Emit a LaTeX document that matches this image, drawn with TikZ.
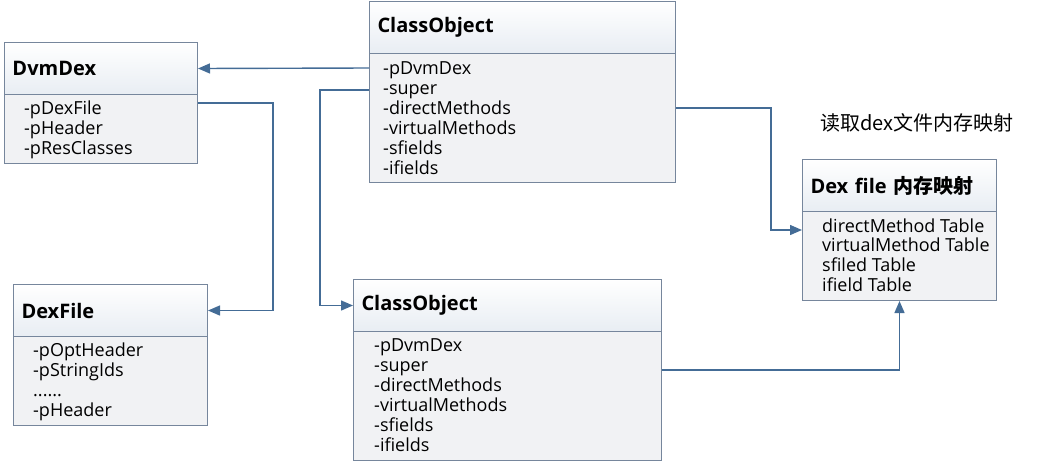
\documentclass[tikz,border=0pt]{standalone}
\usepackage{fontspec}
\setmainfont{Open Sans}
\newfontfamily\cjk{Noto Sans CJK SC}
\usetikzlibrary{arrows.meta}
\begin{document}
\begin{tikzpicture}[x=1pt,y=-1pt]
\definecolor{linecolor}{RGB}{68,108,150}
\definecolor{bordercolor}{RGB}{118,134,156}
\definecolor{headbottom}{RGB}{232,237,243}
\definecolor{bodyfill}{RGB}{241,242,244}
\tikzstyle{head}=[draw=bordercolor,line width=1pt,rectangle,anchor=north west,minimum height=52pt,inner xsep=8pt,align=left,top color=white,bottom color=headbottom,font=\fontsize{20}{24}\selectfont\bfseries]
\tikzstyle{body}=[draw=bordercolor,line width=1pt,rectangle,anchor=north west,fill=bodyfill,inner sep=0pt]
\tikzstyle{attr}=[anchor=west,inner sep=0pt,yshift=-2pt,text height=13pt,text depth=4pt,font=\fontsize{18}{21}\selectfont]
\tikzstyle{link}=[draw=linecolor,line width=1.4pt,-{Triangle[length=12pt,width=10pt]}]
\useasboundingbox (0,0) rectangle (1051,464);
% DvmDex
\node[head,text width=177pt] (dvmdex) at (4,42) {DvmDex};
\node[body,minimum width=193pt,minimum height=69pt] (dvmdexbody) at (4,94) {};
\node[attr] (dvma) at (24,108) {-pDexFile};
\node[attr] (dvmb) at (24,128) {-pHeader};
\node[attr] (dvmc) at (24,148) {-pResClasses};
% ClassObject (top)
\node[head,text width=290pt] (co1) at (369,1) {ClassObject};
\node[body,minimum width=306pt,minimum height=129pt] (co1body) at (369,53) {};
\node[attr] (co1a) at (383,68) {-pDvmDex};
\node[attr] (co1b) at (383,88) {-super};
\node[attr] (co1c) at (383,108) {-directMethods};
\node[attr] (co1d) at (383,128) {-virtualMethods};
\node[attr] (co1e) at (383,148) {-sfields};
\node[attr] (co1f) at (383,168) {-ifields};
% DexFile
\node[head,text width=178pt] (dexfile) at (13,284) {DexFile};
\node[body,minimum width=194pt,minimum height=89pt] (dexfilebody) at (13,336) {};
\node[attr] (dfa) at (33,350) {-pOptHeader};
\node[attr] (dfb) at (33,370) {-pStringIds};
\node[attr] (dfc) at (33,390) {......};
\node[attr] (dfd) at (33,410) {-pHeader};
% ClassObject (bottom)
\node[head,text width=292pt] (co2) at (353,279) {ClassObject};
\node[body,minimum width=308pt,minimum height=129pt] (co2body) at (353,331) {};
\node[attr] (co2a) at (374,345) {-pDvmDex};
\node[attr] (co2b) at (374,365) {-super};
\node[attr] (co2c) at (374,385) {-directMethods};
\node[attr] (co2d) at (374,405) {-virtualMethods};
\node[attr] (co2e) at (374,425) {-sfields};
\node[attr] (co2f) at (374,445) {-ifields};
% Dex file mapping
\node[head,text width=178pt] (dexmap) at (802,159) {Dex file {\cjk 内存映射}};
\node[body,minimum width=194pt,minimum height=89pt] (dexmapbody) at (802,211) {};
\node[attr] (mapa) at (822,226) {directMethod Table};
\node[attr] (mapb) at (822,245) {virtualMethod Table};
\node[attr] (mapc) at (822,265) {sfiled Table};
\node[attr] (mapd) at (822,285) {ifield Table};
\node[attr,font=\fontsize{20}{24}\selectfont] (maplabel) at (820,124) {\cjk 读取dex文件内存映射};
% links
\draw[link] ([yshift=2pt]co1body.west |- co1a) -- (dvmdex.east);
\draw[link] (co1body.west |- co1b) -- ++(-49,0) |- (co2.west);
\draw[link] ([yshift=-9pt]dvmdexbody.north east) -- ++(75,0) |- (dexfile.east);
\draw[link] ([yshift=2pt]co1body.east |- co1c) -- ++(95,0) |- ([yshift=-2pt]dexmapbody.west |- mapa);
\draw[link] ([yshift=-3pt]co2body.east |- co2b) -| (dexmapbody.south);
\end{tikzpicture}
\end{document}
